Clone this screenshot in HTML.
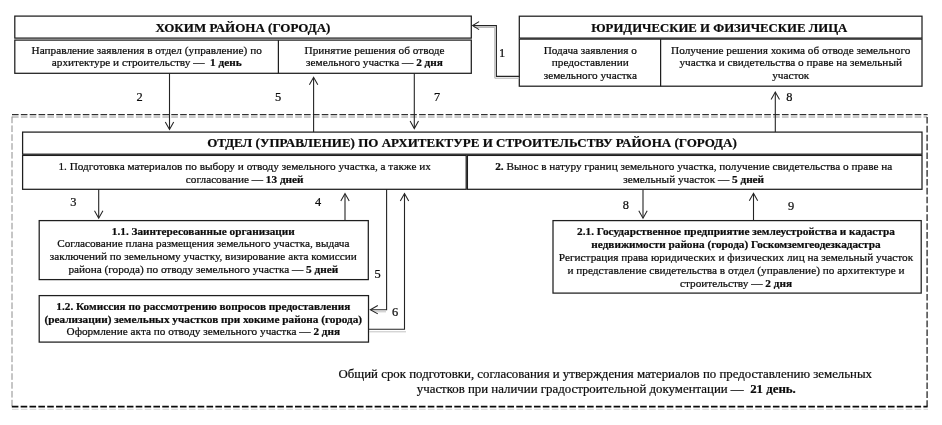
<!DOCTYPE html>
<html lang="ru"><head><meta charset="utf-8"><title>Схема</title>
<style>html,body{margin:0;padding:0;background:#fff;overflow:hidden}svg{display:block;filter:blur(0.3px)}text{white-space:pre;font-family:"Liberation Serif",serif;fill:#0c0c0c;stroke:#0c0c0c;stroke-width:0.22px}.t{font-size:11.25px}.h{font-size:13px;font-weight:bold}.h2{font-size:12.77px;font-weight:bold}.n{font-size:12.4px}.f{font-size:12.85px}.b{font-weight:bold}</style></head><body>
<svg width="942" height="425" viewBox="0 0 942 425">
<rect x="0" y="0" width="942" height="425" fill="#fff"/>
<path d="M12 117 L927 117" fill="none" stroke="#8c8c8c" stroke-width="0.9" stroke-dasharray="6.6 2.25"/>
<path d="M12 116.6 L12 406" fill="none" stroke="#8c8c8c" stroke-width="1" stroke-dasharray="6.6 2.25"/>
<path d="M12 114.6 L927.6 114.6" fill="none" stroke="#303030" stroke-width="1.2" stroke-dasharray="6.6 2.25"/>
<path d="M927.1 117 L927.1 406.6" fill="none" stroke="#383838" stroke-width="1.4" stroke-dasharray="6.6 2.25"/>
<path d="M11.8 406.6 L927.6 406.6" fill="none" stroke="#0a0a0a" stroke-width="1.8" stroke-dasharray="6.6 2.25"/>
<path d="M12 409.3 L928 409.3" fill="none" stroke="#d4d4d4" stroke-width="1" stroke-dasharray="6.6 2.25"/>
<rect x="14.8" y="16.1" width="456.5" height="22.0" fill="none" stroke="#1e1e1e" stroke-width="1.25"/>
<rect x="14.8" y="40.1" width="456.5" height="33.199999999999996" fill="none" stroke="#1e1e1e" stroke-width="1.25"/>
<path d="M278.4 40.1 L278.4 73.3" fill="none" stroke="#1e1e1e" stroke-width="1.25" />
<rect x="519.3" y="16.2" width="402.70000000000005" height="21.900000000000002" fill="none" stroke="#1e1e1e" stroke-width="1.25"/>
<rect x="519.3" y="39.1" width="402.70000000000005" height="47.1" fill="none" stroke="#1e1e1e" stroke-width="1.25"/>
<path d="M660.6 39.1 L660.6 86.2" fill="none" stroke="#1e1e1e" stroke-width="1.25" />
<rect x="22.6" y="132.1" width="899.4" height="22.099999999999994" fill="none" stroke="#1e1e1e" stroke-width="1.25"/>
<rect x="22.6" y="155.4" width="443.59999999999997" height="33.900000000000006" fill="none" stroke="#1e1e1e" stroke-width="1.25"/>
<rect x="467.4" y="155.4" width="454.6" height="33.900000000000006" fill="none" stroke="#1e1e1e" stroke-width="1.25"/>
<rect x="39.2" y="220.6" width="329.1" height="59.00000000000003" fill="none" stroke="#1e1e1e" stroke-width="1.25"/>
<rect x="39.2" y="295.6" width="329.3" height="46.5" fill="none" stroke="#1e1e1e" stroke-width="1.25"/>
<rect x="553" y="220.6" width="368.20000000000005" height="72.50000000000003" fill="none" stroke="#1e1e1e" stroke-width="1.25"/>
<path d="M169.5 73.3 L169.5 129" fill="none" stroke="#242424" stroke-width="1.1" />
<path d="M165.3 122.0 L169.5 129.5 L173.7 122.0" fill="none" stroke="#242424" stroke-width="1.05" />
<path d="M313.6 132 L313.6 78" fill="none" stroke="#242424" stroke-width="1.1" />
<path d="M309.40000000000003 84.8 L313.6 77.3 L317.8 84.8" fill="none" stroke="#242424" stroke-width="1.05" />
<path d="M414.3 73.3 L414.3 128" fill="none" stroke="#242424" stroke-width="1.1" />
<path d="M410.1 121.1 L414.3 128.6 L418.5 121.1" fill="none" stroke="#242424" stroke-width="1.05" />
<path d="M775.3 132 L775.3 92.5" fill="none" stroke="#242424" stroke-width="1.1" />
<path d="M771.0999999999999 99.5 L775.3 92 L779.5 99.5" fill="none" stroke="#242424" stroke-width="1.05" />
<path d="M519.3 78.2 L494.8 78.2 L494.8 27.4 L474 27.4" fill="none" stroke="#b0b0b0" stroke-width="1" />
<path d="M519.3 76.4 L496.4 76.4 L496.4 25.6 L473 25.6" fill="none" stroke="#242424" stroke-width="1.1" />
<path d="M479.1 21.6 L472.6 25.6 L479.1 29.6" fill="none" stroke="#242424" stroke-width="1.05" />
<path d="M98.7 189.3 L98.7 217.5" fill="none" stroke="#242424" stroke-width="1.1" />
<path d="M94.5 210.8 L98.7 218.3 L102.9 210.8" fill="none" stroke="#242424" stroke-width="1.05" />
<path d="M345 220.6 L345 194.2" fill="none" stroke="#242424" stroke-width="1.1" />
<path d="M340.8 201.1 L345 193.6 L349.2 201.1" fill="none" stroke="#242424" stroke-width="1.05" />
<path d="M386 311.8 L374 311.8" fill="none" stroke="#c4c4c4" stroke-width="1" />
<path d="M386.6 189.3 L386.6 309.7 L371 309.7" fill="none" stroke="#242424" stroke-width="1.1" />
<path d="M377.8 305.5 L370.3 309.7 L377.8 313.9" fill="none" stroke="#242424" stroke-width="1.05" />
<path d="M369 331.8 L406 331.8" fill="none" stroke="#c4c4c4" stroke-width="1" />
<path d="M368.5 329.2 L404.5 329.2 L404.5 194.2" fill="none" stroke="#242424" stroke-width="1.1" />
<path d="M400.3 201.1 L404.5 193.6 L408.7 201.1" fill="none" stroke="#242424" stroke-width="1.05" />
<path d="M643 189.3 L643 217.5" fill="none" stroke="#242424" stroke-width="1.1" />
<path d="M638.8 210.7 L643 218.2 L647.2 210.7" fill="none" stroke="#242424" stroke-width="1.05" />
<path d="M753.5 220.6 L753.5 193.8" fill="none" stroke="#242424" stroke-width="1.1" />
<path d="M749.3 200.7 L753.5 193.2 L757.7 200.7" fill="none" stroke="#242424" stroke-width="1.05" />
<text x="243" y="32" class="h" text-anchor="middle" xml:space="preserve">ХОКИМ РАЙОНА (ГОРОДА)</text>
<text x="146.7" y="53.8" class="t" text-anchor="middle" xml:space="preserve">Направление заявления в отдел (управление) по</text>
<text x="146.7" y="65.8" class="t" text-anchor="middle" xml:space="preserve">архитектуре и строительству —  <tspan class="b">1 день</tspan></text>
<text x="374.5" y="53.8" class="t" text-anchor="middle" xml:space="preserve">Принятие решения об отводе</text>
<text x="374.5" y="65.8" class="t" text-anchor="middle" xml:space="preserve">земельного участка — <tspan class="b">2 дня</tspan></text>
<text x="719.3" y="32" class="h2" text-anchor="middle" xml:space="preserve">ЮРИДИЧЕСКИЕ И ФИЗИЧЕСКИЕ ЛИЦА</text>
<text x="590.3" y="53.7" class="t" text-anchor="middle" xml:space="preserve">Подача заявления о</text>
<text x="590.3" y="65.9" class="t" text-anchor="middle" xml:space="preserve">предоставлении</text>
<text x="590.3" y="78.7" class="t" text-anchor="middle" xml:space="preserve">земельного участка</text>
<text x="790.7" y="53.7" class="t" text-anchor="middle" xml:space="preserve">Получение решения хокима об отводе земельного</text>
<text x="790.7" y="65.9" class="t" text-anchor="middle" xml:space="preserve">участка и свидетельства о праве на земельный</text>
<text x="790.7" y="78.5" class="t" text-anchor="middle" xml:space="preserve">участок</text>
<text x="472" y="147.3" class="h" text-anchor="middle" xml:space="preserve">ОТДЕЛ (УПРАВЛЕНИЕ) ПО АРХИТЕКТУРЕ И СТРОИТЕЛЬСТВУ РАЙОНА (ГОРОДА)</text>
<text x="244.7" y="169.7" class="t" text-anchor="middle" xml:space="preserve">1. Подготовка материалов по выбору и отводу земельного участка, а также их</text>
<text x="244.7" y="182.5" class="t" text-anchor="middle" xml:space="preserve">согласование — <tspan class="b">13 дней</tspan></text>
<text x="693.7" y="169.7" class="t" text-anchor="middle" xml:space="preserve"><tspan class="b">2.</tspan> Вынос в натуру границ земельного участка, получение свидетельства о праве на</text>
<text x="693.7" y="182.5" class="t" text-anchor="middle" xml:space="preserve">земельный участок — <tspan class="b">5 дней</tspan></text>
<text x="203.3" y="234.5" class="t b" text-anchor="middle" xml:space="preserve">1.1. Заинтересованные организации</text>
<text x="203.3" y="247.2" class="t" text-anchor="middle" xml:space="preserve">Согласование плана размещения земельного участка, выдача</text>
<text x="203.3" y="259.7" class="t" text-anchor="middle" xml:space="preserve">заключений по земельному участку, визирование акта комиссии</text>
<text x="203.3" y="272.5" class="t" text-anchor="middle" xml:space="preserve">района (города) по отводу земельного участка — <tspan class="b">5 дней</tspan></text>
<text x="203.3" y="310" class="t b" text-anchor="middle" xml:space="preserve">1.2. Комиссия по рассмотрению вопросов предоставления</text>
<text x="203.3" y="323" class="t b" text-anchor="middle" xml:space="preserve">(реализации) земельных участков при хокиме района (города)</text>
<text x="203.3" y="334.7" class="t" text-anchor="middle" xml:space="preserve">Оформление акта по отводу земельного участка — <tspan class="b">2 дня</tspan></text>
<text x="736" y="234.5" class="t b" text-anchor="middle" xml:space="preserve">2.1. Государственное предприятие землеустройства и кадастра</text>
<text x="736" y="247.5" class="t b" text-anchor="middle" xml:space="preserve">недвижимости района (города) Госкомземгеодезкадастра</text>
<text x="736" y="260.5" class="t" text-anchor="middle" xml:space="preserve">Регистрация права юридических и физических лиц на земельный участок</text>
<text x="736" y="273.5" class="t" text-anchor="middle" xml:space="preserve">и представление свидетельства в отдел (управление) по архитектуре и</text>
<text x="736" y="286.7" class="t" text-anchor="middle" xml:space="preserve">строительству — <tspan class="b">2 дня</tspan></text>
<text x="605.3" y="377.8" class="f" text-anchor="middle" xml:space="preserve">Общий срок подготовки, согласования и утверждения материалов по предоставлению земельных</text>
<text x="606.3" y="392.6" class="f" text-anchor="middle" xml:space="preserve">участков при наличии градостроительной документации —  <tspan class="b">21 день.</tspan></text>
<text x="502" y="56.6" class="n" text-anchor="middle" xml:space="preserve">1</text>
<text x="139.5" y="101" class="n" text-anchor="middle" xml:space="preserve">2</text>
<text x="278" y="101" class="n" text-anchor="middle" xml:space="preserve">5</text>
<text x="437" y="101" class="n" text-anchor="middle" xml:space="preserve">7</text>
<text x="789.4" y="100.5" class="n" text-anchor="middle" xml:space="preserve">8</text>
<text x="73.3" y="205.7" class="n" text-anchor="middle" xml:space="preserve">3</text>
<text x="318" y="206" class="n" text-anchor="middle" xml:space="preserve">4</text>
<text x="625.8" y="208.8" class="n" text-anchor="middle" xml:space="preserve">8</text>
<text x="791" y="209.5" class="n" text-anchor="middle" xml:space="preserve">9</text>
<text x="377.5" y="278" class="n" text-anchor="middle" xml:space="preserve">5</text>
<text x="395" y="316.3" class="n" text-anchor="middle" xml:space="preserve">6</text>
</svg></body></html>
